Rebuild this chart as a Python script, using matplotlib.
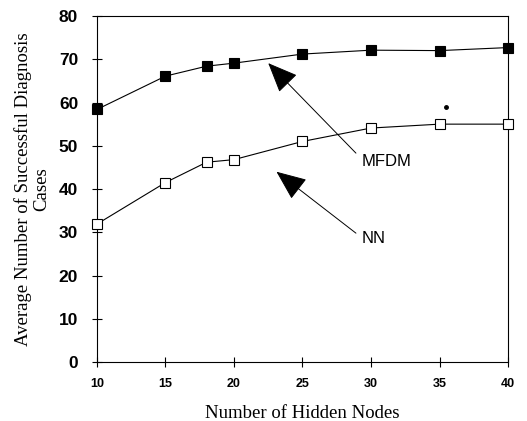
import matplotlib

matplotlib.use("Agg")
import matplotlib.pyplot as plt

# hidden node counts and average successful diagnosis cases
hidden_nodes = [10, 15, 18, 20, 25, 30, 35, 40]
mfdm_cases = [58.4, 66.1, 68.4, 69.1, 71.2, 72.1, 72.0, 72.7]
nn_cases = [31.9, 41.5, 46.2, 46.8, 51.0, 54.1, 55.0, 55.0]

x_ticks = [10, 15, 20, 25, 30, 35, 40]
y_ticks = [0, 10, 20, 30, 40, 50, 60, 70, 80]

# stray dot seen on the original scan
stray_dot = (35.5, 59.0)

SERIF = ["Liberation Serif", "DejaVu Serif"]
SANS = ["Liberation Sans", "DejaVu Sans"]


def main():
    fig = plt.figure(figsize=(5.27, 4.21), dpi=100)
    ax = fig.add_axes([0.184, 0.140, 0.780, 0.822])

    ax.plot(hidden_nodes, mfdm_cases, color="black", linewidth=0.8,
            marker="s", markersize=7, markerfacecolor="black",
            markeredgecolor="black", markeredgewidth=0.8, clip_on=False, zorder=3)
    ax.plot(hidden_nodes, nn_cases, color="black", linewidth=0.8,
            marker="s", markersize=7, markerfacecolor="white",
            markeredgecolor="black", markeredgewidth=0.8, clip_on=False, zorder=3)
    ax.plot(*stray_dot, marker="o", color="black", markersize=2.5)

    arrow = dict(arrowstyle="-|>,head_length=1.9,head_width=0.8",
                 color="black", linewidth=0.7, shrinkA=0, shrinkB=0)
    ax.annotate("", xy=(22.5, 69.1), xytext=(28.9, 48.3), arrowprops=arrow)
    ax.annotate("", xy=(23.1, 44.0), xytext=(28.9, 29.8), arrowprops=arrow)
    ax.text(29.3, 46.3, "MFDM", family=SANS, fontsize=12, va="center", ha="left")
    ax.text(29.3, 28.6, "NN", family=SANS, fontsize=12, va="center", ha="left")

    ax.set_xlim(10, 40)
    ax.set_ylim(0, 80)
    ax.set_xticks(x_ticks)
    ax.set_yticks(y_ticks)
    ax.set_xticklabels([str(v) for v in x_ticks], family=SANS, fontsize=9, fontweight="bold")
    ax.set_yticklabels([str(v) for v in y_ticks], family=SANS, fontsize=12.5, fontweight="bold")
    ax.tick_params(axis="both", direction="inout", length=7, width=0.8, color="black")
    ax.tick_params(axis="x", pad=8)
    ax.tick_params(axis="y", pad=10)

    for spine in ax.spines.values():
        spine.set_linewidth(0.8)
        spine.set_color("black")

    ax.set_xlabel("Number of Hidden Nodes", family=SERIF, fontsize=13.5, labelpad=11)
    ax.set_ylabel("Average Number of Successful Diagnosis\nCases", family=SERIF,
                  fontsize=13.5, labelpad=6, linespacing=1.15)

    fig.savefig("out.png", dpi=100)
    plt.close(fig)


if __name__ == "__main__":
    main()
